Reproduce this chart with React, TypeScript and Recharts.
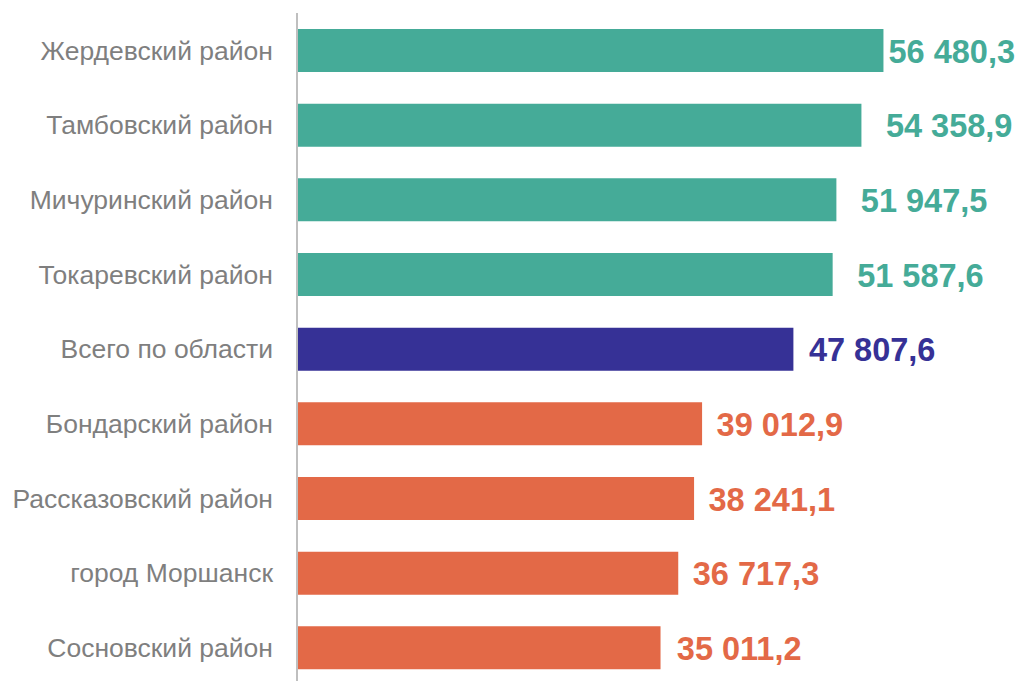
import { BarChart, Bar, XAxis, YAxis, Cell, LabelList } from 'recharts';

// районы сверху вниз
const categories = [
  'Жердевский район',
  'Тамбовский район',
  'Мичуринский район',
  'Токаревский район',
  'Всего по области',
  'Бондарский район',
  'Рассказовский район',
  'город Моршанск',
  'Сосновский район',
];

const values = [56480.3, 54358.9, 51947.5, 51587.6, 47807.6, 39012.9, 38241.1, 36717.3, 35011.2];

// above = выше среднего, total = область, below = ниже среднего
const groups = ['above', 'above', 'above', 'above', 'total', 'below', 'below', 'below', 'below'];

const groupStyle: Record<string, { color: string; gap: number }> = {
  above: { color: '#45AB98', gap: 25 },
  total: { color: '#363196', gap: 16 },
  below: { color: '#E36947', gap: 15 },
};

const CHART_W = 1020;
const CHART_H = 686;
const LABEL_W = 126;
const FONT = '"Liberation Sans", Arial, sans-serif';

const data = categories.map((name, i) => ({ name, value: values[i], group: groups[i] }));

const fmt = (v: number) => {
  const [int, dec] = v.toFixed(1).split('.');
  return int.replace(/\B(?=(\d{3})+(?!\d))/g, ' ') + ',' + dec;
};

const ValueLabel = (props: any) => {
  const { x, y, width, height, value, index } = props;
  const st = groupStyle[groups[index]];
  const right = Math.min(x + width + st.gap + LABEL_W, CHART_W - 5);
  return (
    <text
      x={right}
      y={y + height / 2 + 1}
      textAnchor="end"
      dominantBaseline="central"
      fill={st.color}
      fontSize={32.5}
      fontWeight="bold"
      fontFamily={FONT}
    >
      {fmt(value)}
    </text>
  );
};

export default function App() {
  return (
    <div style={{ position: 'absolute', left: 0, top: 0, width: CHART_W, height: 681, overflow: 'hidden', background: '#fff' }}>
      <BarChart
        width={CHART_W}
        height={CHART_H}
        data={data}
        layout="vertical"
        margin={{ top: 13, right: 100, left: 0, bottom: 1 }}
      >
        <XAxis type="number" domain={[0, 60000]} hide />
        <YAxis
          type="category"
          dataKey="name"
          width={297}
          tickSize={0}
          tickMargin={24}
          axisLine={{ stroke: '#BFBFBF', strokeWidth: 2 }}
          tick={{ fill: '#7F7F7F', fontSize: 26.5, fontFamily: FONT }}
        />
        <Bar dataKey="value" barSize={43} isAnimationActive={false}>
          {data.map((d, i) => (
            <Cell key={i} fill={groupStyle[d.group].color} />
          ))}
          <LabelList dataKey="value" content={<ValueLabel />} />
        </Bar>
      </BarChart>
    </div>
  );
}
